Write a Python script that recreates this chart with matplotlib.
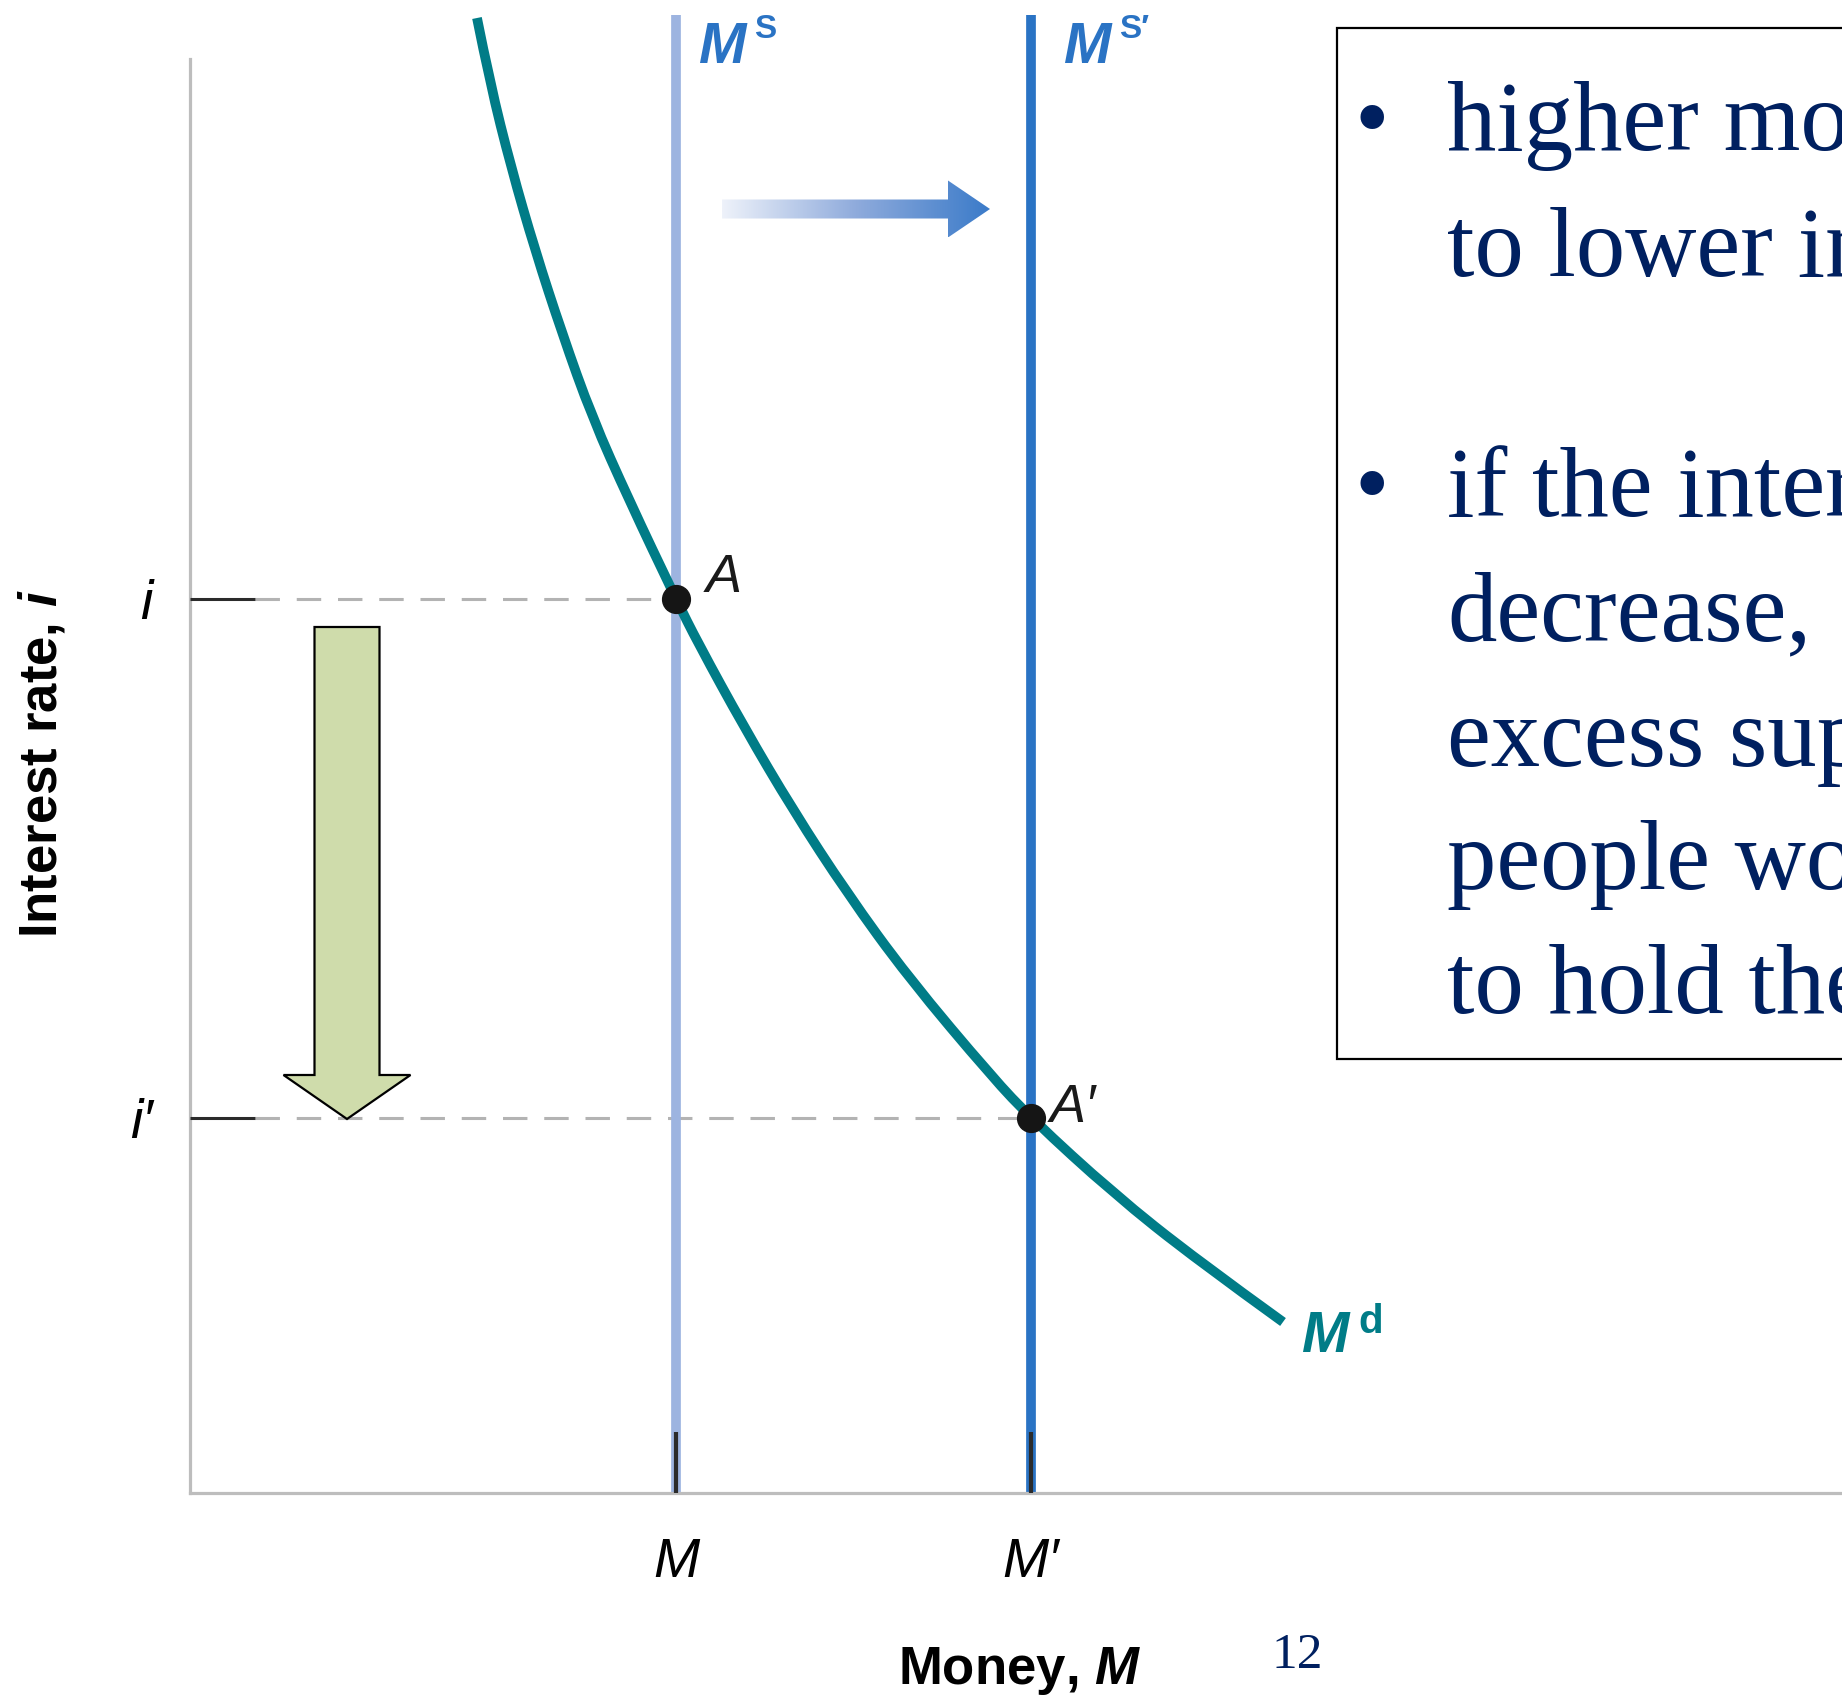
"""
Money market: a rise in money supply shifts Ms to Ms' and lowers the interest rate.
"""

import matplotlib
matplotlib.use('Agg')
import matplotlib.pyplot as plt
import matplotlib.patches as mpatches
from matplotlib.path import Path
from matplotlib.colors import LinearSegmentedColormap
import numpy as np

plt.rcParams['mathtext.fontset'] = 'custom'
plt.rcParams['mathtext.rm'] = 'Liberation Sans'
plt.rcParams['mathtext.it'] = 'Liberation Sans:italic'
plt.rcParams['mathtext.bf'] = 'Liberation Sans:bold'
plt.rcParams['mathtext.bfit'] = 'Liberation Sans:italic:bold'

SANS = ['Liberation Sans', 'DejaVu Sans']
SERIF = ['Liberation Serif', 'DejaVu Serif']

# schematic units (money on x, interest rate on y)
money_ticks = [4.86, 8.41]
money_labels = ['M', 'M′']
rate_ticks = [8.94, 3.75]
rate_labels = ['i', 'i′']

# money demand curve
md_x = [2.87, 3.00, 3.21, 3.45, 3.72, 4.02, 4.39, 4.86, 5.08, 5.54, 6.03,
        6.57, 7.18, 8.03, 8.41, 9.23, 10.07, 10.93]
md_y = [14.75, 14.10, 13.26, 12.43, 11.60, 10.76, 9.93, 8.94, 8.50, 7.66,
        6.83, 6.00, 5.16, 4.15, 3.75, 3.00, 2.33, 1.71]

supply_top = 14.78
eq_labels = ['A', 'A′']

# the text box is cut by the slide edge; only these pieces show
box_lines = ['higher mon', 'to lower in', '', 'if the inter', 'decrease,',
             'excess sup', 'people wo', 'to hold the']
box_baselines = [150, 276, None, 516, 640, 766, 889, 1013]
bullet_rows = [0, 3]

C_MS = '#9db4e0'
C_MS2 = '#2a73c4'
C_MD = '#007c87'
C_TXT = '#002060'

fig = plt.figure(figsize=(18.42, 16.96), dpi=100)
W, H = 1842.0, 1696.0
ax = fig.add_axes([190 / W, 1 - 1493 / H, 1 - 190 / W, (1493 - 59) / H])
ax.set_axisbelow(False)
ax.patch.set_alpha(0)

for s in ['top', 'right']:
    ax.spines[s].set_visible(False)
for s in ['left', 'bottom']:
    ax.spines[s].set_color('#bdbdbd')
    ax.spines[s].set_linewidth(2.3)

ax.set_xticks(money_ticks)
ax.set_xticklabels(money_labels, fontstyle='italic', fontsize=40, family=SANS)
ax.set_yticks(rate_ticks)
ax.set_yticklabels(rate_labels, fontstyle='italic', fontsize=40, family=SANS)
ax.tick_params(axis='x', direction='in', length=44, width=3, color='#2b2b2b', pad=32)
ax.tick_params(axis='y', direction='in', length=47, width=2.2, color='#2b2b2b', pad=27)

ax.set_xlabel(r'Money, $\mathbfit{M}$', fontsize=38, fontweight='bold', family=SANS)
ax.xaxis.set_label_coords(0.502, -0.106)
ax.set_ylabel(r'Interest rate, $\mathbfit{i}$', fontsize=38, fontweight='bold', family=SANS)
ax.yaxis.set_label_coords(-0.074, 0.509)

# dashed guides from the axis to the equilibria
for mx, ry in zip(money_ticks, rate_ticks):
    ax.plot([0.65, mx], [ry, ry], color='#b3b3b3', lw=2.2, dashes=(8, 5.5), zorder=1)

# supply lines
ax.plot([money_ticks[0]] * 2, [0, supply_top], color=C_MS, lw=7, zorder=2, clip_on=False,
        solid_capstyle='butt')
ax.plot([money_ticks[1]] * 2, [0, supply_top], color=C_MS2, lw=7, zorder=2, clip_on=False,
        solid_capstyle='butt')

# demand curve: the read points act as control points of a smooth quadratic path
pts = np.column_stack([md_x, md_y])
verts = [pts[0]]
codes = [Path.MOVETO]
for k in range(1, len(pts) - 1):
    mid = (pts[k] + pts[k + 1]) / 2 if k < len(pts) - 2 else pts[-1]
    verts += [pts[k], mid]
    codes += [Path.CURVE3, Path.CURVE3]
ax.add_patch(mpatches.PathPatch(Path(verts, codes), fill=False, ec=C_MD, lw=7,
                                zorder=3, clip_on=False, capstyle='butt'))

# equilibrium points
ax.plot(money_ticks, rate_ticks, 'o', ms=20, color='#151515', zorder=5)
ax.text(money_ticks[0] + 0.30, rate_ticks[0] + 0.07, eq_labels[0], fontsize=39,
        fontstyle='italic', family=SANS, color='#1a1a1a', va='baseline')
ax.text(money_ticks[1] + 0.19, rate_ticks[1] - 0.04, eq_labels[1], fontsize=39,
        fontstyle='italic', family=SANS, color='#1a1a1a', va='baseline')

# curve labels
ax.text(5.09, 14.30, 'M', fontsize=41, fontweight='bold', fontstyle='italic', family=SANS,
        color=C_MS2, va='baseline', clip_on=False)
ax.text(5.64, 14.55, 'S', fontsize=24, fontweight='bold', family=SANS, color=C_MS2,
        va='baseline', clip_on=False)
ax.text(8.74, 14.30, 'M', fontsize=41, fontweight='bold', fontstyle='italic', family=SANS,
        color=C_MS2, va='baseline', clip_on=False)
ax.text(9.29, 14.55, 'S′', fontsize=24, fontweight='bold', family=SANS, color=C_MS2,
        va='baseline', clip_on=False)
ax.text(11.12, 1.41, 'M', fontsize=41, fontweight='bold', fontstyle='italic', family=SANS,
        color=C_MD, va='baseline')
ax.text(11.68, 1.60, 'd', fontsize=29, fontweight='bold', family=SANS, color=C_MD,
        va='baseline')

# shift arrow with a fading gradient
x0, x1, yc = 5.32, 8.00, 12.84
shaft_h, head_h, head_l = 0.19, 0.57, 0.42
arrow_poly = mpatches.Polygon(
    [[x0, yc - shaft_h / 2], [x1 - head_l, yc - shaft_h / 2], [x1 - head_l, yc - head_h / 2],
     [x1, yc], [x1 - head_l, yc + head_h / 2], [x1 - head_l, yc + shaft_h / 2],
     [x0, yc + shaft_h / 2]], closed=True, fc='none', ec='none')
ax.add_patch(arrow_poly)
grad_cmap = LinearSegmentedColormap.from_list('fade', ['#eef2fa', '#8fabdc', '#3b7bc9'])
img = ax.imshow(np.linspace(0, 1, 256).reshape(1, -1), cmap=grad_cmap, aspect='auto',
                extent=[x0, x1, yc - head_h / 2, yc + head_h / 2], zorder=2)
img.set_clip_path(arrow_poly)
ax.set_xlim(0, 16.52)
ax.set_ylim(0, 14.34)

# interest rate falls
ax.add_patch(mpatches.FancyArrow(1.57, 8.66, 0, -4.92, width=0.65, head_width=1.27,
                                 head_length=0.44, length_includes_head=True,
                                 fc='#cfdcab', ec='black', lw=1.6, zorder=4))

# text box on the right
fig.add_artist(mpatches.Rectangle((1337 / W, 1 - 1059 / H), 0.4, (1059 - 27.5) / H,
                                  transform=fig.transFigure, fc='white', ec='black', lw=1.6))
for k, (line, base) in enumerate(zip(box_lines, box_baselines)):
    if base is None:
        continue
    fig.text(1447 / W, 1 - base / H, line, fontsize=71, family=SERIF, color=C_TXT,
             va='baseline', ha='left')
    if k in bullet_rows:
        fig.text(1372 / W, 1 - base / H, '•', fontsize=71, family=SERIF, color=C_TXT,
                 va='baseline', ha='center')

fig.text(1272 / W, 1 - 1668 / H, '12', fontsize=37, family=SERIF, color=C_TXT,
         va='baseline', ha='left')

fig.savefig('out.png', dpi=100)
